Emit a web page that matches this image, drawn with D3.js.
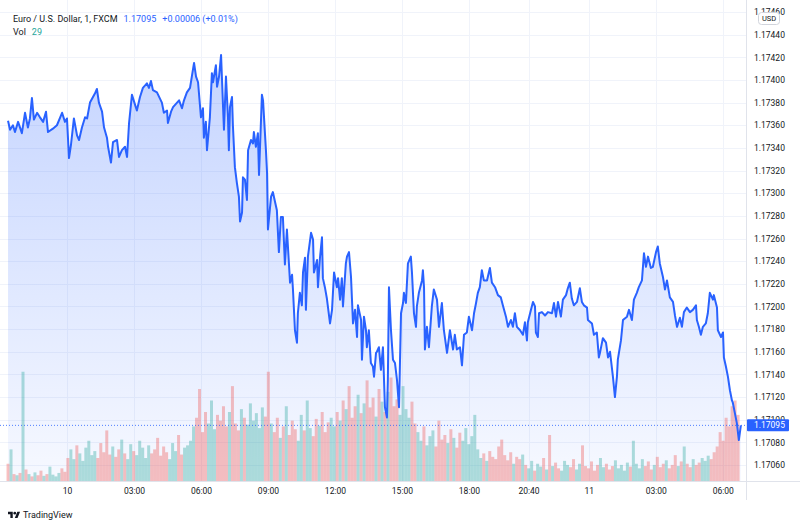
<!DOCTYPE html>
<html><head><meta charset="utf-8">
<script src="https://cdn.jsdelivr.net/npm/d3@7"></script>
<style>
body{margin:0;background:#fff}
svg{display:block;font-family:Roboto,"Liberation Sans",sans-serif}
</style>
</head><body>
<svg id="c" width="800" height="527"></svg>
<script>
// ---- DATA ----
// time: trading hours since the 10th 00:00 (session break collapsed), 1-minute EUR/USD closes sampled
const times = [-2.64,-2.55,-2.42,-2.33,-2.19,-2.02,-1.88,-1.75,-1.66,-1.57,-1.48,-1.34,-1.21,-1.07,-0.94,-0.85,-0.63,-0.45,-0.22,-0.09,
0,0.09,0.18,0.31,0.45,0.54,0.67,0.81,0.90,1.03,1.25,1.34,1.43,1.57,1.66,1.79,1.84,1.97,2.06,2.24,2.33,2.46,2.60,2.69,2.78,2.91,
3.05,3.13,3.27,3.40,3.58,3.67,3.76,3.85,4.03,4.25,4.34,4.48,4.52,4.66,4.75,4.93,5.02,5.15,5.24,5.37,5.51,5.69,5.78,5.87,
6.00,6.09,6.13,6.22,6.27,6.40,6.49,6.54,6.67,6.72,6.81,6.90,6.99,7.03,7.12,7.21,7.25,7.30,7.39,7.43,7.52,7.61,7.70,7.75,7.84,7.88,7.97,
8.06,8.11,8.24,8.33,8.37,8.46,8.55,8.60,8.73,8.78,8.91,8.96,9.00,9.14,9.22,9.40,9.49,9.58,9.67,9.76,9.85,9.99,
10.08,10.12,10.21,10.30,10.34,10.43,10.52,10.57,10.66,10.70,10.79,10.93,11.02,11.06,11.20,11.24,11.33,11.42,11.46,11.55,11.64,11.78,11.87,11.96,
12.09,12.14,12.23,12.31,12.36,12.49,12.54,12.63,12.72,12.81,12.90,12.99,13.03,13.17,13.21,13.30,13.39,13.43,13.52,13.61,13.70,13.75,13.84,13.88,13.97,
14.06,14.15,14.24,14.33,14.37,14.42,14.51,14.60,14.69,14.78,14.87,14.96,15.05,15.09,15.18,15.27,15.40,15.45,15.54,15.63,15.67,15.76,15.90,15.94,15.99,
16.03,16.12,16.21,16.34,16.43,16.57,16.66,16.79,16.88,17.02,17.15,17.29,17.37,17.46,17.60,17.69,17.78,17.91,
18.00,18.14,18.23,18.32,18.40,18.49,18.58,18.67,18.81,18.94,19.03,19.17,19.30,19.43,19.52,19.66,19.75,19.88,19.97,
20.06,20.15,20.29,20.42,20.51,20.60,20.64,20.78,20.87,20.96,21.00,21.09,21.14,21.27,21.41,21.54,21.72,21.81,21.90,21.99,
22.12,22.21,22.35,22.43,22.52,22.61,22.70,22.84,22.97,23.06,23.15,23.29,23.33,23.51,23.60,23.73,23.82,23.87,
24.00,24.14,24.23,24.32,24.45,24.54,24.63,24.67,24.81,24.90,25.08,25.17,25.30,25.39,25.52,25.61,25.75,25.84,25.93,
26.02,26.15,26.24,26.38,26.46,26.55,26.69,26.78,26.87,27.00,27.14,27.23,27.32,27.45,27.54,27.63,27.76,27.90,
28.03,28.17,28.21,28.30,28.39,28.48,28.61,28.70,28.79,28.93,28.97,29.11,29.15,29.29,29.38,29.42,29.51,29.60,29.69,29.78,
29.82,29.91,30.00,30.09,30.18];

const prices = [1.17364,1.17356,1.17360,1.17354,1.17363,1.17353,1.17371,1.17358,1.17366,1.17384,1.17365,1.17371,1.17367,1.17363,1.17372,1.17354,1.17357,1.17360,1.17371,1.17363,
1.17366,1.17331,1.17343,1.17366,1.17351,1.17347,1.17358,1.17367,1.17366,1.17380,1.17388,1.17392,1.17380,1.17372,1.17358,1.17349,1.17341,1.17327,1.17345,1.17347,1.17332,1.17338,1.17341,1.17332,1.17362,1.17387,
1.17378,1.17373,1.17385,1.17393,1.17397,1.17393,1.17399,1.17391,1.17389,1.17380,1.17371,1.17373,1.17362,1.17372,1.17376,1.17380,1.17382,1.17375,1.17382,1.17389,1.17393,1.17415,1.17403,1.17398,
1.17367,1.17375,1.17349,1.17363,1.17338,1.17367,1.17406,1.17398,1.17413,1.17394,1.17403,1.17422,1.17376,1.17356,1.17403,1.17367,1.17338,1.17376,1.17385,1.17360,1.17323,1.17309,1.17297,1.17275,1.17283,1.17314,1.17312,
1.17294,1.17338,1.17347,1.17344,1.17354,1.17341,1.17353,1.17316,1.17387,1.17382,1.17338,1.17318,1.17268,1.17297,1.17301,1.17285,1.17248,1.17279,1.17279,1.17237,1.17268,1.17221,
1.17228,1.17215,1.17179,1.17168,1.17194,1.17212,1.17201,1.17230,1.17243,1.17197,1.17244,1.17265,1.17259,1.17230,1.17241,1.17217,1.17243,1.17261,1.17225,1.17217,1.17207,1.17185,1.17197,1.17230,
1.17217,1.17225,1.17206,1.17225,1.17200,1.17238,1.17244,1.17248,1.17226,1.17185,1.17197,1.17173,1.17201,1.17188,1.17153,1.17191,1.17179,1.17164,1.17179,1.17150,1.17147,1.17138,1.17159,1.17160,1.17164,
1.17144,1.17164,1.17111,1.17102,1.17135,1.17217,1.17179,1.17153,1.17150,1.17135,1.17111,1.17194,1.17203,1.17212,1.17203,1.17238,1.17244,1.17230,1.17194,1.17182,1.17200,1.17212,1.17223,1.17232,1.17217,
1.17162,1.17182,1.17164,1.17200,1.17215,1.17206,1.17182,1.17203,1.17179,1.17159,1.17179,1.17162,1.17175,1.17162,1.17164,1.17148,1.17175,1.17177,
1.17191,1.17179,1.17194,1.17203,1.17212,1.17217,1.17232,1.17223,1.17223,1.17234,1.17221,1.17217,1.17210,1.17208,1.17201,1.17191,1.17182,1.17188,1.17182,
1.17194,1.17182,1.17179,1.17175,1.17186,1.17170,1.17186,1.17197,1.17204,1.17200,1.17177,1.17173,1.17194,1.17195,1.17192,1.17195,1.17194,1.17203,1.17191,1.17204,
1.17191,1.17206,1.17210,1.17216,1.17221,1.17207,1.17201,1.17204,1.17216,1.17204,1.17201,1.17199,1.17188,1.17185,1.17175,1.17177,1.17155,1.17159,
1.17172,1.17168,1.17155,1.17160,1.17138,1.17120,1.17138,1.17153,1.17170,1.17188,1.17191,1.17197,1.17188,1.17206,1.17212,1.17217,1.17223,1.17247,1.17235,
1.17244,1.17234,1.17235,1.17248,1.17253,1.17238,1.17226,1.17215,1.17223,1.17208,1.17204,1.17192,1.17182,1.17190,1.17182,1.17195,1.17199,1.17195,
1.17197,1.17201,1.17188,1.17182,1.17175,1.17182,1.17185,1.17194,1.17212,1.17206,1.17210,1.17199,1.17179,1.17173,1.17177,1.17155,1.17147,1.17138,1.17126,1.17117,
1.17115,1.17106,1.17097,1.17082,1.17095];

// volume, aggregated in consecutive 8-minute buckets starting at volStart (hours)
const volStart = -2.64, volStep = 0.134;
const volumes = [30,55,12,10,14,190,20,12,8,15,10,18,9,12,25,11,8,14,22,16,
40,55,38,62,48,35,58,70,45,52,40,66,50,88,46,60,42,55,72,48,38,64,52,45,70,58,40,62,48,55,75,44,60,50,38,66,52,80,46,58,62,70,
95,110,160,85,120,100,140,90,115,105,130,95,120,165,100,88,125,110,98,135,105,118,92,128,112,190,
100,85,110,75,95,130,80,105,90,70,115,88,140,92,78,108,96,120,85,102,110,95,
120,105,140,125,165,110,130,150,118,135,175,128,145,112,160,138,120,155,180,130,142,115,165,125,110,138,100,
85,70,95,62,78,88,60,105,72,80,66,90,75,58,84,70,92,64,78,115,
55,40,48,35,52,42,38,60,72,45,36,50,30,42,38,46,
28,22,35,18,30,25,40,20,80,26,32,22,18,35,28,24,38,20,30,62,26,22,34,18,28,40,24,30,20,26,36,22,28,18,32,25,70,30,22,38,26,34,20,28,42,24,30,36,22,28,45,26,34,60,30,24,38,28,32,40,35,44,38,50,
60,85,70,110,95,130,140,115];

const priceTicks = [1.17060,1.17080,1.17100,1.17120,1.17140,1.17160,1.17180,1.17200,1.17220,1.17240,1.17260,1.17280,1.17300,1.17320,1.17340,1.17360,1.17380,1.17400,1.17420,1.17440,1.17460];
const timeTickPos = [0,3,6,9,12,15,18,20.67,23.37,26.37,29.37];
const timeTickLabels = ["10","03:00","06:00","09:00","12:00","15:00","18:00","20:40","11","03:00","06:00"];
const lastPrice = 1.17095;
const legendTitle = "Euro / U.S. Dollar, 1, FXCM";
const legendPrice = "1.17095";
const legendChange = "+0.00006 (+0.01%)";
const lastVol = 29;

// ---- CHART ----
const svg = d3.select("#c");
const paneR = 746, paneB = 481;
const x = d3.scaleLinear().domain([-3, 30.41]).range([0, paneR]);
const y = d3.scaleLinear().domain([1.17060, 1.17460]).range([465, 12]);
const vy = d3.scaleLinear().domain([0, 200]).range([paneB, 366]);

const series = d3.zip(times, prices).map(([t, p]) => ({t, p}));

const defs = svg.append("defs");
const grad = defs.append("linearGradient").attr("id","ag")
  .attr("gradientUnits","userSpaceOnUse").attr("x1",0).attr("x2",0).attr("y1",40).attr("y2",paneB);
grad.append("stop").attr("offset",0).attr("stop-color","rgb(41,98,255)").attr("stop-opacity",0.28);
grad.append("stop").attr("offset",1).attr("stop-color","rgb(41,98,255)").attr("stop-opacity",0.04);
defs.append("clipPath").attr("id","pane").append("rect").attr("x",0).attr("y",0).attr("width",paneR).attr("height",paneB);

// grid
const grid = svg.append("g");
grid.selectAll(".hg").data(priceTicks).join("line")
  .attr("x1",0).attr("x2",paneR).attr("y1",d=>Math.round(y(d))+0.5).attr("y2",d=>Math.round(y(d))+0.5)
  .attr("stroke","#f0f3fa").attr("stroke-width",1);
grid.selectAll(".vg").data(timeTickPos).join("line")
  .attr("y1",0).attr("y2",paneB).attr("x1",d=>Math.round(x(d))+0.5).attr("x2",d=>Math.round(x(d))+0.5)
  .attr("stroke","#f0f3fa").attr("stroke-width",1);

const plot = svg.append("g").attr("clip-path","url(#pane)");

// area
plot.append("path").datum(series)
  .attr("d", d3.area().x(d=>x(d.t)).y0(paneB).y1(d=>y(d.p)))
  .attr("fill","url(#ag)");

// volume bars
const priceAt = t => {
  const i = d3.bisector(d=>d.t).left(series, t);
  if (i <= 0) return series[0].p;
  if (i >= series.length) return series[series.length-1].p;
  const a = series[i-1], b = series[i];
  return a.p + (b.p - a.p) * (t - a.t) / (b.t - a.t);
};
const vols = volumes.map((v,i) => {
  const t = volStart + i*volStep;
  return {t, v, up: priceAt(t + volStep/2) >= priceAt(t - volStep/2)};
});
const bw = x(volStep) - x(0);
plot.append("g").selectAll("rect").data(vols).join("rect")
  .attr("x", d=>x(d.t) - bw/2).attr("width", bw)
  .attr("y", d=>vy(d.v)).attr("height", d=>paneB - vy(d.v))
  .attr("fill", d=>d.up ? "rgba(38,166,154,0.36)" : "rgba(239,83,80,0.36)");

// last price dotted line
plot.append("line").attr("x1",0).attr("x2",paneR)
  .attr("y1",y(lastPrice)).attr("y2",y(lastPrice))
  .attr("stroke","#2962ff").attr("stroke-width",1).attr("stroke-dasharray","1,2").attr("opacity",0.8);

// price line
plot.append("path").datum(series)
  .attr("d", d3.line().x(d=>x(d.t)).y(d=>y(d.p)))
  .attr("fill","none").attr("stroke","#2962ff").attr("stroke-width",2).attr("stroke-linejoin","round");

// pane borders
svg.append("line").attr("x1",paneR+0.5).attr("x2",paneR+0.5).attr("y1",0).attr("y2",500).attr("stroke","#e0e3eb");
svg.append("line").attr("x1",0).attr("x2",800).attr("y1",paneB+0.5).attr("y2",paneB+0.5).attr("stroke","#e0e3eb");

// price axis
const yAxis = d3.axisRight(y).tickValues(priceTicks).tickFormat(d3.format(".5f")).tickSize(0).tickPadding(8);
const ya = svg.append("g").attr("transform",`translate(${paneR},0)`).call(yAxis);
ya.select(".domain").remove();
ya.selectAll("text").attr("fill","#131722").style("font-size","8.5px").style("font-family","Roboto, sans-serif");

// time axis
const xAxis = d3.axisBottom(x).tickValues(timeTickPos).tickFormat((d,i)=>timeTickLabels[i]).tickSize(0).tickPadding(7);
const xa = svg.append("g").attr("transform",`translate(0,${paneB})`).call(xAxis);
xa.select(".domain").remove();
xa.selectAll("text").attr("fill","#131722").style("font-size","8.5px").style("font-family","Roboto, sans-serif");

// last price label
const ly = y(lastPrice);
svg.append("rect").attr("x",paneR+1).attr("y",ly-6).attr("width",42).attr("height",12).attr("fill","#2962ff").attr("rx",1);
svg.append("text").attr("x",paneR+8).attr("y",ly).attr("dy","0.35em").attr("fill","#fff")
  .style("font-size","8.5px").text(d3.format(".5f")(lastPrice));

// USD badge
svg.append("rect").attr("x",758.5).attr("y",12.5).attr("width",21).attr("height",12).attr("rx",3)
  .attr("fill","#fff").attr("stroke","#d1d4dc");
svg.append("text").attr("x",769).attr("y",18.5).attr("dy","0.35em").attr("text-anchor","middle")
  .attr("fill","#131722").style("font-size","7.5px").text("USD");

// legend
const l1 = svg.append("text").attr("x",13).attr("y",19).attr("dy","0.35em").style("font-size","9px");
l1.append("tspan").attr("fill","#131722").text(legendTitle);
l1.append("tspan").attr("fill","#2962ff").attr("dx",6).text(legendPrice);
l1.append("tspan").attr("fill","#2962ff").attr("dx",6).text(legendChange);
const l2 = svg.append("text").attr("x",13).attr("y",32).attr("dy","0.35em").style("font-size","9px");
l2.append("tspan").attr("fill","#131722").text("Vol");
l2.append("tspan").attr("fill","#26a69a").attr("dx",6).text(lastVol);

// TradingView logo
const logo = svg.append("g").attr("transform","translate(8,510.5) scale(0.34)");
logo.append("path").attr("d","M14 22H7V11H0V4h14v18zM28 22h-8l7.5-18h8L28 22z").attr("fill","#131722");
logo.append("circle").attr("cx",20).attr("cy",8).attr("r",4).attr("fill","#131722");
svg.append("text").attr("x",23).attr("y",515).attr("dy","0.35em").attr("fill","#131722")
  .style("font-size","9px").text("TradingView");
</script>
</body></html>
